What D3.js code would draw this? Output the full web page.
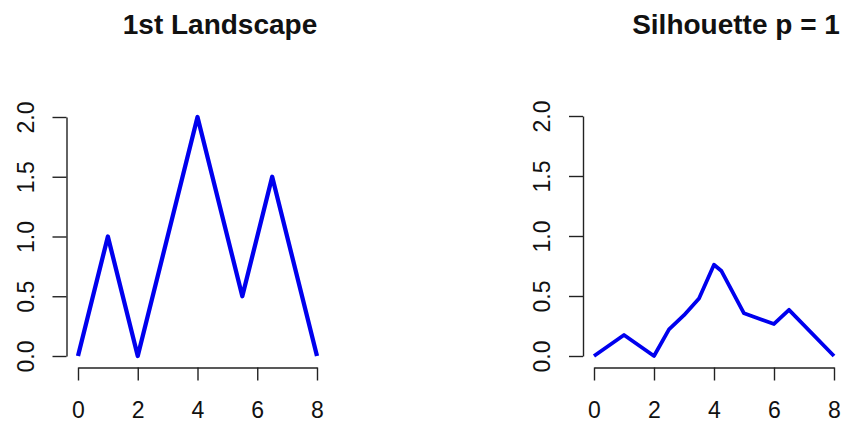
<!DOCTYPE html>
<html>
<head>
<meta charset="utf-8">
<script src="https://cdn.jsdelivr.net/npm/d3@7/dist/d3.min.js"></script>
<style>
  html, body { margin: 0; padding: 0; background: #fff; }
  svg { display: block; }
  text { font-family: "Liberation Sans", Arial, Helvetica, sans-serif; fill: #111; }
</style>
</head>
<body>
<svg id="chart" width="843" height="422"></svg>
<script>
// Landscape function (first landscape) breakpoints
const landscapeX = [0, 1, 2, 4, 5.5, 6.5, 8];
const landscapeY = [0, 1, 0, 2, 0.5, 1.5, 0];

// Power-weighted silhouette (p = 1) breakpoints
const silhouetteX = [0, 1, 2, 2.5, 3, 3.5, 4, 4.25, 5, 6, 6.5, 8];
const silhouetteY = [0, 0.175, 0, 0.222, 0.34, 0.48, 0.76, 0.708, 0.356, 0.267, 0.385, 0];

const xTicks = [0, 2, 4, 6, 8];
const yTicks = [0, 0.5, 1, 1.5, 2];
const yTickLabels = ["0.0", "0.5", "1.0", "1.5", "2.0"];

const titles = ["1st Landscape", "Silhouette p = 1"];

const svg = d3.select("#chart");

const panels = [
  { title: titles[0], xs: landscapeX, ys: landscapeY,
    xRange: [78, 317], yRange: [356, 117], yAxisX: 66.5, xAxisY: 367.5, titleX: 220, lw: 4.3 },
  { title: titles[1], xs: silhouetteX, ys: silhouetteY,
    xRange: [594, 834], yRange: [356, 116], yAxisX: 583, xAxisY: 367.5, titleX: 736, lw: 3.8 }
];

panels.forEach(p => {
  const x = d3.scaleLinear().domain([0, 8]).range(p.xRange);
  const y = d3.scaleLinear().domain([0, 2]).range(p.yRange);

  // x axis below the plot region, line spans first to last tick
  const gx = svg.append("g")
    .attr("transform", `translate(0,${p.xAxisY})`)
    .call(d3.axisBottom(x).tickValues(xTicks).tickSize(13).tickSizeOuter(0).tickPadding(21));
  gx.selectAll("path, line").attr("stroke", "#222").attr("stroke-width", 1.4);
  gx.selectAll("text").attr("font-size", 23).attr("fill", "#111")
    .style("font-family", "'Liberation Sans', Arial, sans-serif");

  // y axis with labels rotated parallel to the axis
  const gy = svg.append("g")
    .attr("transform", `translate(${p.yAxisX},0)`)
    .call(d3.axisLeft(y).tickValues(yTicks).tickFormat((d, i) => yTickLabels[i])
      .tickSize(14).tickSizeOuter(0));
  gy.selectAll("path, line").attr("stroke", "#222").attr("stroke-width", 1.4);
  gy.selectAll("text")
    .attr("x", 0).attr("dy", 0)
    .attr("text-anchor", "middle")
    .attr("transform", "translate(-33,0) rotate(-90)")
    .attr("font-size", 23).attr("fill", "#111")
    .style("font-family", "'Liberation Sans', Arial, sans-serif");

  // the curve
  const pts = p.xs.map((v, i) => [v, p.ys[i]]);
  svg.append("path")
    .datum(pts)
    .attr("fill", "none")
    .attr("stroke", "#0000ee")
    .attr("stroke-width", p.lw)
    .attr("stroke-linejoin", "round")
    .attr("d", d3.line().x(d => x(d[0])).y(d => y(d[1])));

  // title
  svg.append("text")
    .attr("x", p.titleX).attr("y", 34)
    .attr("text-anchor", "middle")
    .attr("font-size", 28).attr("font-weight", "bold")
    .text(p.title);
});
</script>
</body>
</html>
